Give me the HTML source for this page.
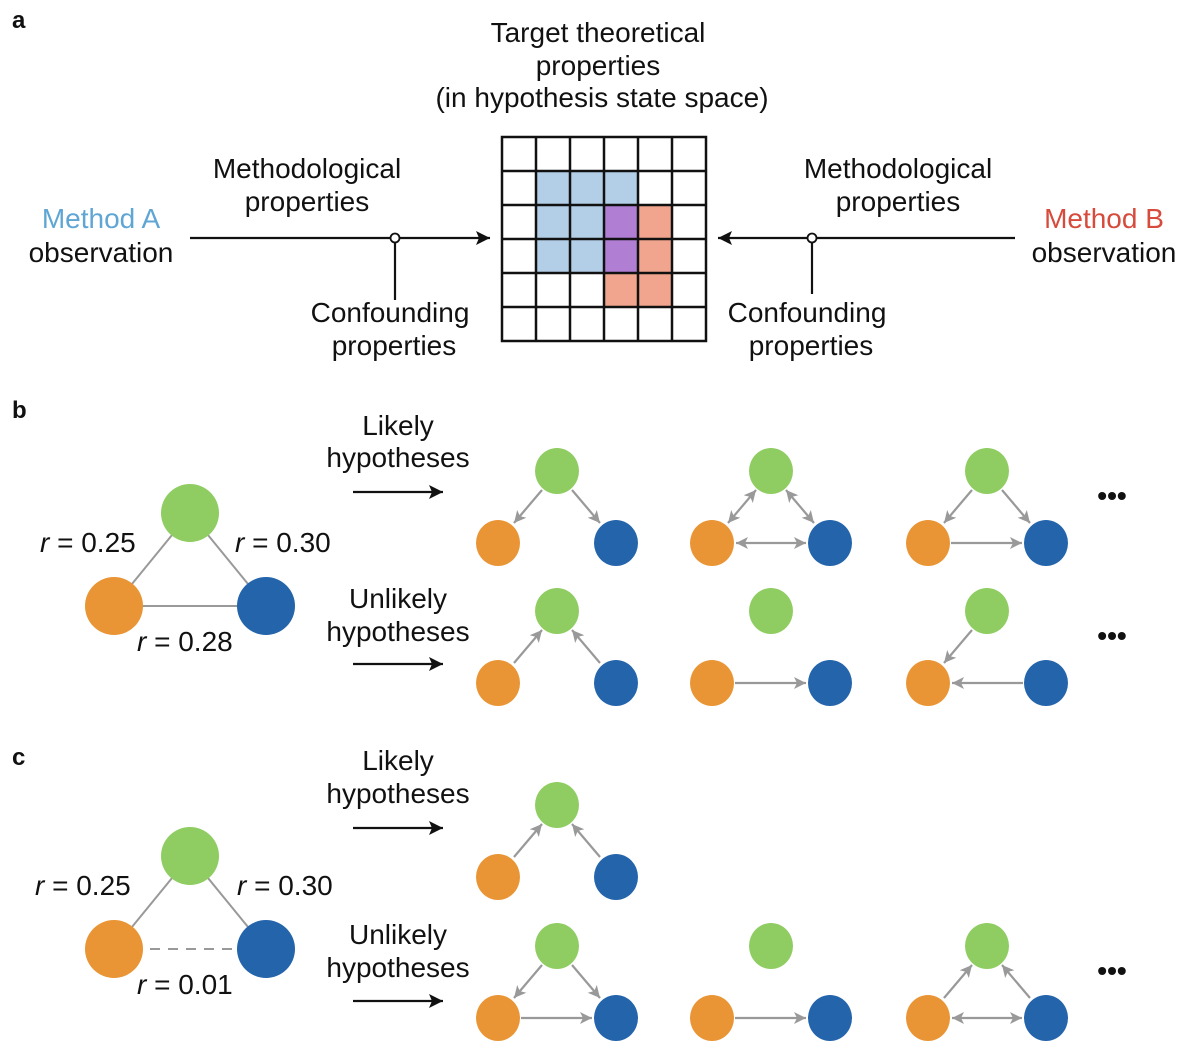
<!DOCTYPE html>
<html><head><meta charset="utf-8"><style>
html,body{margin:0;padding:0;background:#fff;}
svg{display:block;}
text{font-family:"Liberation Sans",Arial,sans-serif;font-size:28px;fill:#111;}
.c{text-anchor:middle;}
.lbl{font-weight:bold;font-size:24px;}
</style></head><body>
<svg width="1200" height="1054" viewBox="0 0 1200 1054" xmlns="http://www.w3.org/2000/svg">
<defs>
<marker id="ga" markerUnits="userSpaceOnUse" markerWidth="14" markerHeight="14" refX="12" refY="6" orient="auto-start-reverse"><path d="M0,0 L12,6 L0,12 L3,6 Z" fill="#999"/></marker>
<marker id="ka" markerUnits="userSpaceOnUse" markerWidth="16" markerHeight="16" refX="14" refY="7" orient="auto-start-reverse"><path d="M0,0 L14,7 L0,14 L3,7 Z" fill="#111"/></marker>
<g id="G"><ellipse cx="0" cy="0" rx="22" ry="23" fill="#8fcd62"/></g>
<g id="O"><ellipse cx="-59" cy="72" rx="22" ry="23" fill="#e99535"/></g>
<g id="B"><ellipse cx="59" cy="72" rx="22" ry="23" fill="#2464ab"/></g>
<g id="nodes"><use href="#G"/><use href="#O"/><use href="#B"/></g>
</defs>

<text x="12" y="28" class="lbl">a</text>
<text x="12" y="418" class="lbl">b</text>
<text x="12" y="765" class="lbl">c</text>

<!-- panel a -->
<text x="598" y="42" class="c">Target theoretical</text>
<text x="598" y="75" class="c">properties</text>
<text x="602" y="107" class="c">(in hypothesis state space)</text>

<g>
<rect x="536" y="171" width="102" height="34" fill="#b3cfe8"/>
<rect x="536" y="205" width="68" height="68" fill="#b3cfe8"/>
<rect x="604" y="205" width="34" height="68" fill="#b07fd4"/>
<rect x="638" y="205" width="34" height="68" fill="#f2a58e"/>
<rect x="604" y="273" width="68" height="34" fill="#f2a58e"/>
<g stroke="#111" stroke-width="2.5" fill="none">
<rect x="502" y="137" width="204" height="204"/>
<path d="M536,137V341M570,137V341M604,137V341M638,137V341M672,137V341M502,171H706M502,205H706M502,239H706M502,273H706M502,307H706"/>
</g>
</g>

<text x="307" y="178" class="c">Methodological</text>
<text x="307" y="211" class="c">properties</text>
<text x="101" y="228" class="c" style="fill:#5fa6d4">Method A</text>
<text x="101" y="262" class="c">observation</text>
<line x1="190" y1="238" x2="490" y2="238" stroke="#111" stroke-width="2.2" marker-end="url(#ka)"/>
<line x1="395" y1="238" x2="395" y2="300" stroke="#111" stroke-width="2.2"/>
<circle cx="395" cy="238" r="4.5" fill="#fff" stroke="#111" stroke-width="1.8"/>
<text x="390" y="322" class="c">Confounding</text>
<text x="394" y="355" class="c">properties</text>

<text x="898" y="178" class="c">Methodological</text>
<text x="898" y="211" class="c">properties</text>
<text x="1104" y="228" class="c" style="fill:#d64b3c">Method B</text>
<text x="1104" y="262" class="c">observation</text>
<line x1="1015" y1="238" x2="718" y2="238" stroke="#111" stroke-width="2.2" marker-end="url(#ka)"/>
<line x1="812" y1="238" x2="812" y2="294" stroke="#111" stroke-width="2.2"/>
<circle cx="812" cy="238" r="4.5" fill="#fff" stroke="#111" stroke-width="1.8"/>
<text x="807" y="322" class="c">Confounding</text>
<text x="811" y="355" class="c">properties</text>

<!-- panel b -->
<g stroke="#999" stroke-width="2">
<line x1="190" y1="513" x2="114" y2="606"/><line x1="190" y1="513" x2="266" y2="606"/><line x1="114" y1="606" x2="266" y2="606"/>
</g>
<circle cx="190" cy="513" r="29" fill="#8fcd62"/>
<circle cx="114" cy="606" r="29" fill="#e99535"/>
<circle cx="266" cy="606" r="29" fill="#2464ab"/>
<text x="40" y="552"><tspan font-style="italic">r</tspan> = 0.25</text>
<text x="235" y="552"><tspan font-style="italic">r</tspan> = 0.30</text>
<text x="137" y="651"><tspan font-style="italic">r</tspan> = 0.28</text>

<text x="398" y="435" class="c">Likely</text>
<text x="398" y="467" class="c">hypotheses</text>
<line x1="353" y1="492" x2="443" y2="492" stroke="#111" stroke-width="2.2" marker-end="url(#ka)"/>
<text x="398" y="608" class="c">Unlikely</text>
<text x="398" y="641" class="c">hypotheses</text>
<line x1="353" y1="664" x2="443" y2="664" stroke="#111" stroke-width="2.2" marker-end="url(#ka)"/>

<g stroke="#999" stroke-width="2.2" fill="none">
<!-- b row1 -->
<g transform="translate(557,471)"><line x1="-15" y1="19" x2="-43" y2="52" marker-end="url(#ga)"/><line x1="15" y1="19" x2="43" y2="52" marker-end="url(#ga)"/></g>
<g transform="translate(771,471)"><line x1="-15" y1="19" x2="-43" y2="52" marker-start="url(#ga)" marker-end="url(#ga)"/><line x1="15" y1="19" x2="43" y2="52" marker-start="url(#ga)" marker-end="url(#ga)"/><line x1="-35" y1="72" x2="35" y2="72" marker-start="url(#ga)" marker-end="url(#ga)"/></g>
<g transform="translate(987,471)"><line x1="-15" y1="19" x2="-43" y2="52" marker-end="url(#ga)"/><line x1="15" y1="19" x2="43" y2="52" marker-end="url(#ga)"/><line x1="-36" y1="72" x2="35" y2="72" marker-end="url(#ga)"/></g>
<!-- b row2 -->
<g transform="translate(557,611)"><line x1="-43" y1="52" x2="-15" y2="19" marker-end="url(#ga)"/><line x1="43" y1="52" x2="15" y2="19" marker-end="url(#ga)"/></g>
<g transform="translate(771,611)"><line x1="-36" y1="72" x2="35" y2="72" marker-end="url(#ga)"/></g>
<g transform="translate(987,611)"><line x1="-15" y1="19" x2="-43" y2="52" marker-end="url(#ga)"/><line x1="36" y1="72" x2="-35" y2="72" marker-end="url(#ga)"/></g>
<!-- c row1 -->
<g transform="translate(557,805)"><line x1="-43" y1="52" x2="-15" y2="19" marker-end="url(#ga)"/><line x1="43" y1="52" x2="15" y2="19" marker-end="url(#ga)"/></g>
<!-- c row2 -->
<g transform="translate(557,946)"><line x1="-15" y1="19" x2="-43" y2="52" marker-end="url(#ga)"/><line x1="15" y1="19" x2="43" y2="52" marker-end="url(#ga)"/><line x1="-36" y1="72" x2="35" y2="72" marker-end="url(#ga)"/></g>
<g transform="translate(771,946)"><line x1="-36" y1="72" x2="35" y2="72" marker-end="url(#ga)"/></g>
<g transform="translate(987,946)"><line x1="-43" y1="52" x2="-15" y2="19" marker-end="url(#ga)"/><line x1="43" y1="52" x2="15" y2="19" marker-end="url(#ga)"/><line x1="-35" y1="72" x2="35" y2="72" marker-start="url(#ga)" marker-end="url(#ga)"/></g>
</g>

<use href="#nodes" transform="translate(557,471)"/>
<use href="#nodes" transform="translate(771,471)"/>
<use href="#nodes" transform="translate(987,471)"/>
<use href="#nodes" transform="translate(557,611)"/>
<use href="#nodes" transform="translate(771,611)"/>
<use href="#nodes" transform="translate(987,611)"/>
<use href="#nodes" transform="translate(557,805)"/>
<use href="#nodes" transform="translate(557,946)"/>
<use href="#nodes" transform="translate(771,946)"/>
<use href="#nodes" transform="translate(987,946)"/>

<text x="1112" y="505" class="c" style="font-weight:bold">•••</text>
<text x="1112" y="645" class="c" style="font-weight:bold">•••</text>
<text x="1112" y="980" class="c" style="font-weight:bold">•••</text>

<!-- panel c -->
<g stroke="#999" stroke-width="2">
<line x1="190" y1="856" x2="114" y2="949"/><line x1="190" y1="856" x2="266" y2="949"/><line x1="114" y1="949" x2="266" y2="949" stroke-dasharray="10,8"/>
</g>
<circle cx="190" cy="856" r="29" fill="#8fcd62"/>
<circle cx="114" cy="949" r="29" fill="#e99535"/>
<circle cx="266" cy="949" r="29" fill="#2464ab"/>
<text x="35" y="895"><tspan font-style="italic">r</tspan> = 0.25</text>
<text x="237" y="895"><tspan font-style="italic">r</tspan> = 0.30</text>
<text x="137" y="994"><tspan font-style="italic">r</tspan> = 0.01</text>

<text x="398" y="770" class="c">Likely</text>
<text x="398" y="803" class="c">hypotheses</text>
<line x1="353" y1="828" x2="443" y2="828" stroke="#111" stroke-width="2.2" marker-end="url(#ka)"/>
<text x="398" y="944" class="c">Unlikely</text>
<text x="398" y="977" class="c">hypotheses</text>
<line x1="353" y1="1001" x2="443" y2="1001" stroke="#111" stroke-width="2.2" marker-end="url(#ka)"/>
</svg>
</body></html>
